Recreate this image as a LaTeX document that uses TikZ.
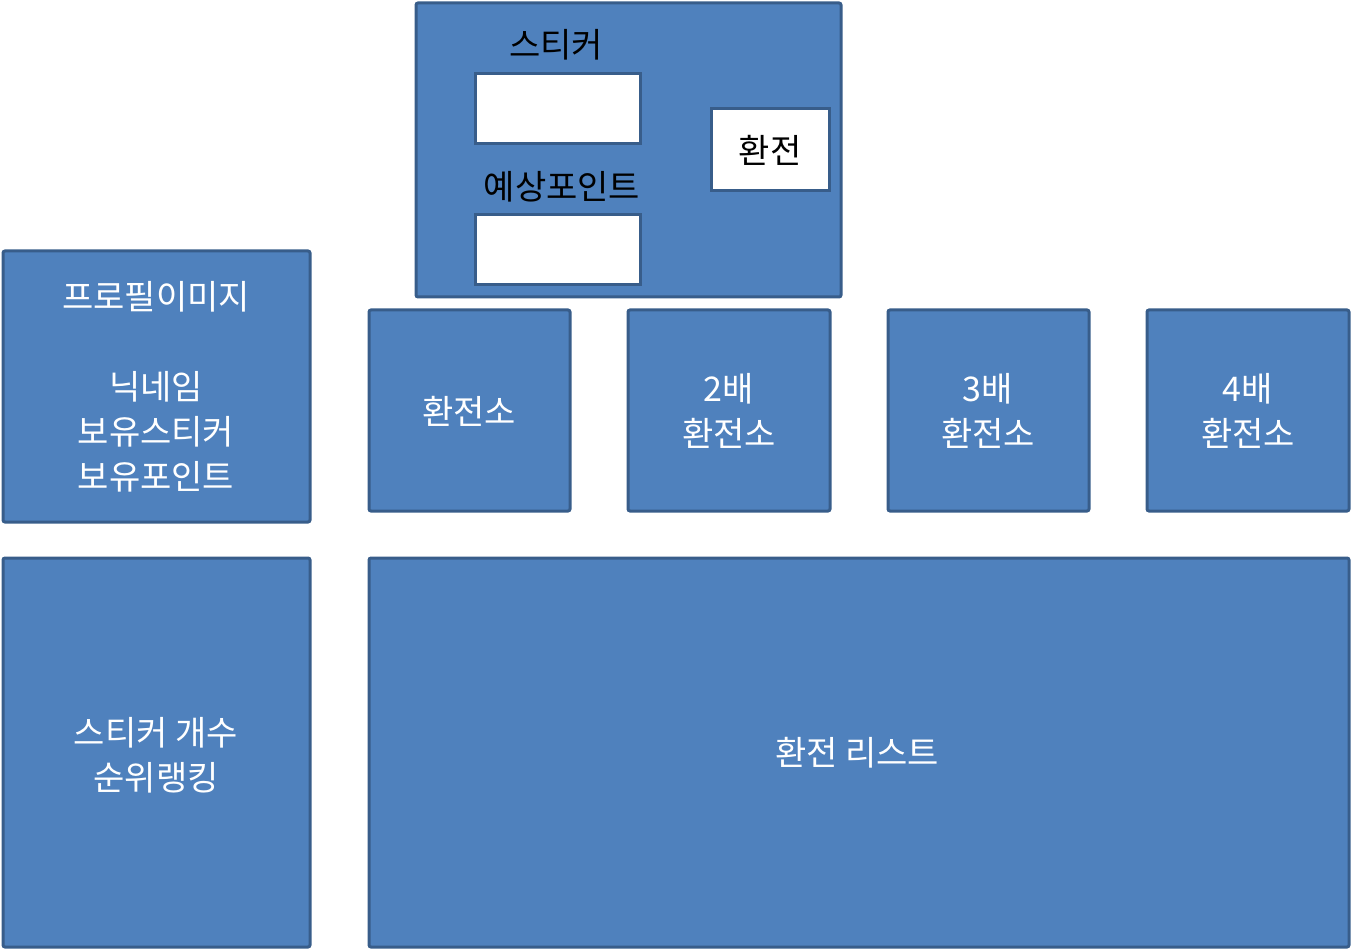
\documentclass[tikz,border=0pt]{standalone}
\usepackage{fontspec}
\setmainfont{Noto Sans CJK KR}
\usepackage{xcolor}
\definecolor{panelcolor}{RGB}{79,129,189}
\definecolor{edgecolor}{RGB}{56,93,138}
\tikzset{
  panel/.style={fill=panelcolor, draw=edgecolor, line width=1.5pt, rounded corners=1pt},
  field/.style={fill=white, draw=edgecolor, line width=1.5pt},
  caption/.style={text=white, align=center, font=\fontsize{17}{22.5}\selectfont},
  label/.style={text=black, font=\fontsize{17}{22}\selectfont}
}
\begin{document}
\begin{tikzpicture}[x=0.5pt, y=-0.5pt]
        \useasboundingbox (0,0) rectangle (1352,951);

        % Exchange form
        \draw[panel] (416,3) rectangle (841,297);
        \draw[field] (475,74) rectangle (640,144) coordinate (stickerbox);
        \draw[field] (475,215) rectangle (640,285) coordinate (pointbox);
        \node[label] (stickerlabel) at (556,45) {스티커};
        \node[label] (pointlabel) at (562,187) {예상포인트};
        \draw[field] (711,109) rectangle (829,191);
        \node[label] (exchangebtn) at (770,150) {환전};

        % Profile
        \draw[panel] (3,251) rectangle (310,522);
        \node[caption] (profile) at (156,387) {프로필이미지\\[22.5pt]닉네임\\보유스티커\\보유포인트};

        % Exchange shops
        \draw[panel] (369,310) rectangle (570,511);
        \node[caption] (shop1) at (469,411) {환전소};
        \draw[panel] (628,310) rectangle (830,511);
        \node[caption] (shop2) at (729,411) {2배\\환전소};
        \draw[panel] (888,310) rectangle (1089,511);
        \node[caption] (shop3) at (988,411) {3배\\환전소};
        \draw[panel] (1147,310) rectangle (1349,511);
        \node[caption] (shop4) at (1248,411) {4배\\환전소};

        % Ranking and list
        \draw[panel] (3,558) rectangle (310,947);
        \node[caption] (ranking) at (156,755) {스티커 개수\\순위랭킹};
        \draw[panel] (369,558) rectangle (1349,947);
        \node[caption] (history) at (857,753) {환전 리스트};
\end{tikzpicture}
\end{document}
